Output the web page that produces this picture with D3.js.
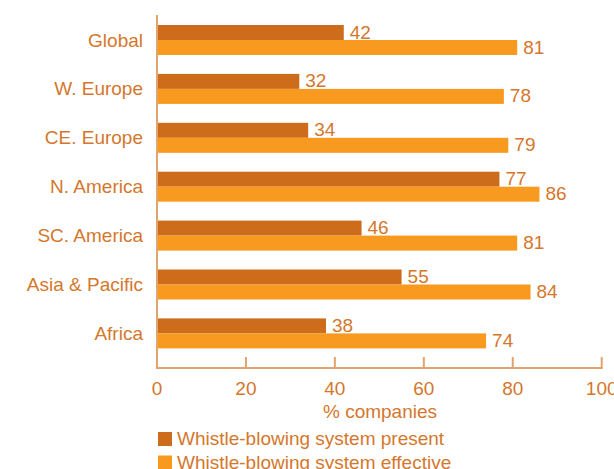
<!DOCTYPE html>
<html><head><meta charset="utf-8">
<script src="https://cdn.jsdelivr.net/npm/d3@7"></script>
<style>body{margin:0;background:#fff}svg{display:block}text{font-family:"Liberation Sans",Arial,sans-serif}</style>
</head><body>
<svg id="c" width="614" height="469"></svg>
<script>
const categories = ["Global","W. Europe","CE. Europe","N. America","SC. America","Asia & Pacific","Africa"];
const present = [42,32,34,77,46,55,38];
const effective = [81,78,79,86,81,84,74];
const seriesNames = ["Whistle-blowing system present","Whistle-blowing system effective"];
const xTicks = [0,20,40,60,80,100];
const xTitle = "% companies";

const colors = ["#cd6d1b","#f89a1f"];
const textColor = "#d4772c";
const axisColor = "#e2a46f";
const fs = 19;

const svg = d3.select("#c");
const x = d3.scaleLinear().domain([0,100]).range([157,601.7]);
const step = 48.9;
const yb = d3.scalePoint().domain(categories).range([25, 25+6*step]);
const sub = d3.scaleBand().domain([0,1]).range([0,30]);

const g = svg.append("g");
categories.forEach((c,i)=>{
  const vals=[present[i],effective[i]];
  vals.forEach((v,j)=>{
    const top = yb(c)+sub(j);
    g.append("rect").attr("x",x(0)).attr("y",top).attr("width",x(v)-x(0)).attr("height",sub.bandwidth()).attr("fill",colors[j]);
    g.append("text").attr("x",x(v)+6).attr("y",top+sub.bandwidth()-1.5).attr("fill",textColor).attr("font-size",fs).text(v);
  });
  g.append("text").attr("x",143).attr("y",yb(c)+15+6.5).attr("text-anchor","end").attr("fill",textColor).attr("font-size",fs).text(c);
});

// axes
svg.append("line").attr("x1",157).attr("x2",157).attr("y1",15).attr("y2",368.5).attr("stroke",axisColor).attr("stroke-width",2);
svg.append("line").attr("x1",156).attr("x2",x(100)+1).attr("y1",368).attr("y2",368).attr("stroke",axisColor).attr("stroke-width",2);
xTicks.forEach(t=>{
  if(t>0) svg.append("line").attr("x1",x(t)).attr("x2",x(t)).attr("y1",357).attr("y2",368).attr("stroke",axisColor).attr("stroke-width",2);
  svg.append("text").attr("x",x(t)).attr("y",395).attr("text-anchor","middle").attr("fill",textColor).attr("font-size",fs).text(t);
});
svg.append("text").attr("x",380).attr("y",418).attr("text-anchor","middle").attr("fill",textColor).attr("font-size",fs).text(xTitle);

seriesNames.forEach((s,j)=>{
  const yy = 432 + j*23.5;
  svg.append("rect").attr("x",158).attr("y",yy).attr("width",14).attr("height",14).attr("fill",colors[j]);
  svg.append("text").attr("x",177).attr("y",yy+13).attr("fill",textColor).attr("font-size",fs).text(s);
});
</script>
</body></html>
